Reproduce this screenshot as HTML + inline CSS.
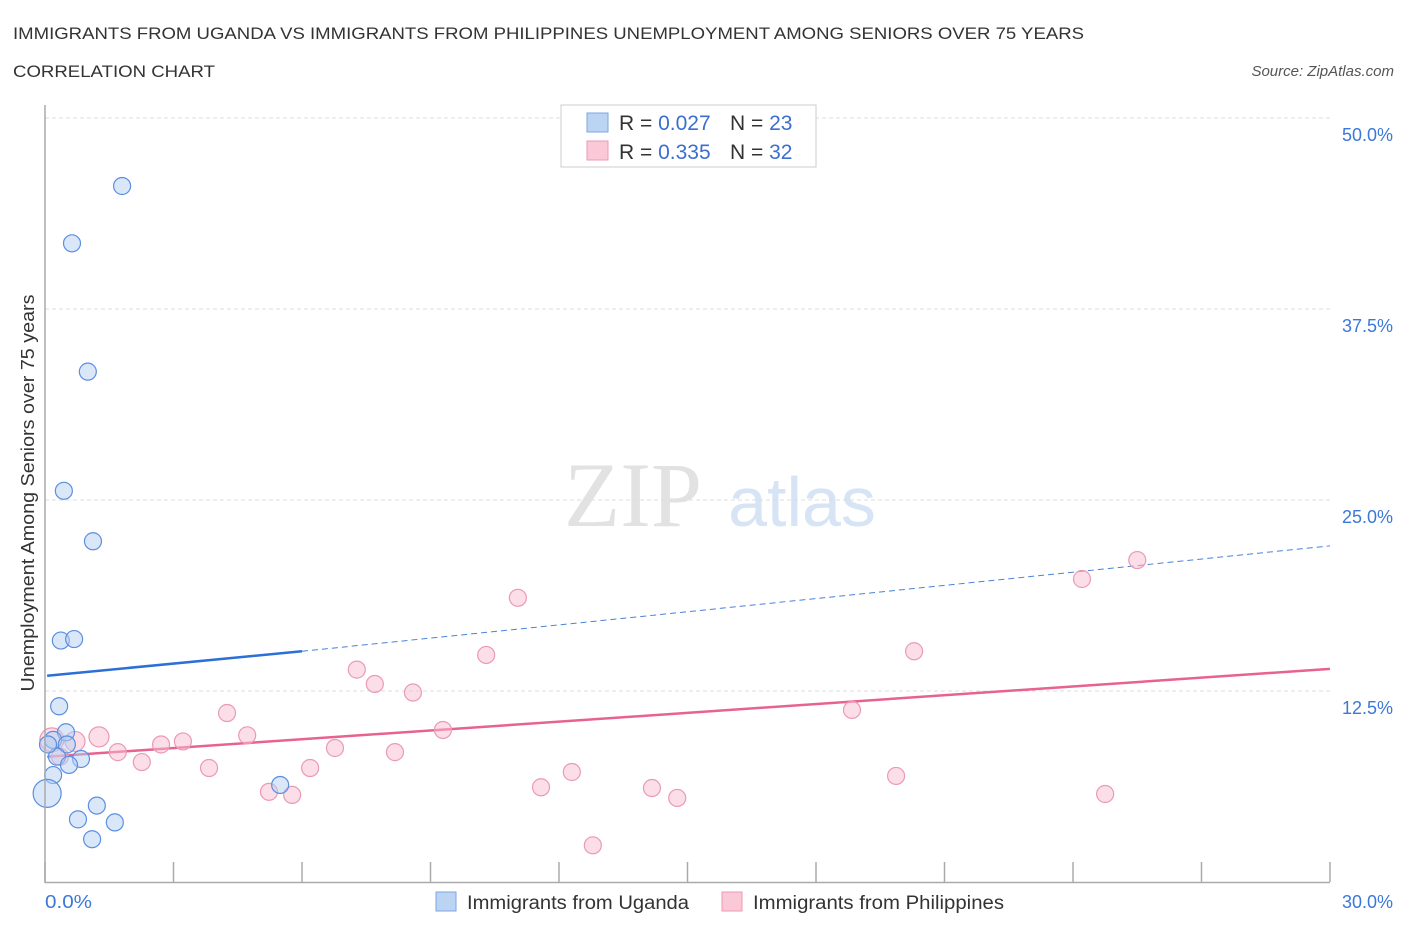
<!DOCTYPE html>
<html><head><meta charset="utf-8"><style>
body{margin:0;background:#fff;font-family:"Liberation Sans",sans-serif;}
</style></head><body>
<svg id="chart" width="1406" height="930" xmlns="http://www.w3.org/2000/svg" font-family="Liberation Sans, sans-serif">
<text x="13" y="39" font-size="17" fill="#333" textLength="1071" lengthAdjust="spacingAndGlyphs">IMMIGRANTS FROM UGANDA VS IMMIGRANTS FROM PHILIPPINES UNEMPLOYMENT AMONG SENIORS OVER 75 YEARS</text>
<text x="13" y="77" font-size="17" fill="#333" textLength="202" lengthAdjust="spacingAndGlyphs">CORRELATION CHART</text>
<text x="1394" y="76" font-size="15" fill="#555" text-anchor="end" font-style="italic">Source: ZipAtlas.com</text>
<text x="633" y="526" font-size="92" fill="#e2e2e2" text-anchor="middle" font-family="Liberation Serif, serif">ZIP</text>
<text x="802" y="526" font-size="70" fill="#d6e4f5" text-anchor="middle">atlas</text>
<text transform="translate(34,493) rotate(-90)" font-size="18" fill="#333" text-anchor="middle" textLength="397" lengthAdjust="spacingAndGlyphs">Unemployment Among Seniors over 75 years</text>
<g id="grid"></g><g id="ticks"></g><g id="lines"></g><g id="pts"></g>
<line x1="45" y1="105" x2="45" y2="883" stroke="#aaa" stroke-width="1.5"/>
<line x1="45" y1="882.5" x2="1330" y2="882.5" stroke="#aaa" stroke-width="1.5"/>
<text x="45" y="908" font-size="18" fill="#3b78d8" textLength="47" lengthAdjust="spacingAndGlyphs">0.0%</text>
<text x="1393" y="908" font-size="18" fill="#3b78d8" text-anchor="end">30.0%</text>
<g>
<rect x="561" y="105" width="255" height="62" fill="#fff" stroke="#ccc"/>
<rect x="587" y="113" width="21" height="19" fill="#bcd4f4" stroke="#7ea6e0"/>
<rect x="587" y="141" width="21" height="19" fill="#fbc8d8" stroke="#ee9ab5"/>
<text x="619" y="130" font-size="21" fill="#333">R = <tspan fill="#3b6fcf">0.027</tspan></text>
<text x="730" y="130" font-size="21" fill="#333">N = <tspan fill="#3b6fcf">23</tspan></text>
<text x="619" y="159" font-size="21" fill="#333">R = <tspan fill="#3b6fcf">0.335</tspan></text>
<text x="730" y="159" font-size="21" fill="#333">N = <tspan fill="#3b6fcf">32</tspan></text>
</g>
<g><rect x="436" y="892" width="20" height="19" fill="#bcd4f4" stroke="#7ea6e0"/><text x="467" y="909" font-size="19" fill="#333" textLength="222" lengthAdjust="spacingAndGlyphs">Immigrants from Uganda</text></g>
<g><rect x="722" y="892" width="20" height="19" fill="#fbc8d8" stroke="#ee9ab5"/><text x="753" y="909" font-size="19" fill="#333" textLength="251" lengthAdjust="spacingAndGlyphs">Immigrants from Philippines</text></g>
</svg>
<script>
const yTicks=[12.5,25,37.5,50];
const yTickLabels=["12.5%","25.0%","37.5%","50.0%"];
const xTicks=[0,3,6,9,12,15,18,21,24,27,30];
const ugandaX=[1.80,0.63,1.00,0.44,1.12,0.37,0.68,0.33,0.49,0.19,0.51,0.28,0.84,0.56,0.19,0.05,1.21,0.77,1.63,1.10,5.49,0.07];
const ugandaY=[45.55,41.8,33.4,25.6,22.3,15.8,15.9,11.5,9.8,9.3,9.0,8.2,8.05,7.66,7.0,5.8,5.0,4.1,3.9,2.8,6.35,9.0];
const ugandaR=[8.5,8.5,8.5,8.5,8.5,8.5,8.5,8.5,8.5,8.5,8.5,8.5,8.5,8.5,8.5,14,8.5,8.5,8.5,8.5,8.5,8.5];
const philX=[0.16,0.7,1.26,1.70,2.26,2.71,3.22,3.83,4.25,4.72,5.23,5.77,6.19,6.77,7.28,7.70,8.17,8.59,9.29,10.30,11.04,11.58,12.30,12.79,14.17,14.76,18.84,19.87,20.29,24.21,24.75,25.5,0.35];
const philY=[9.3,9.2,9.5,8.5,7.85,9.0,9.2,7.46,11.06,9.6,5.9,5.7,7.46,8.77,13.9,12.96,8.5,12.4,9.95,14.86,18.6,6.2,7.2,2.4,6.15,5.5,11.26,6.94,15.1,19.83,5.76,21.07,8.2];
const philR=[12,10,10,8.5,8.5,8.5,8.5,8.5,8.5,8.5,8.5,8.5,8.5,8.5,8.5,8.5,8.5,8.5,8.5,8.5,8.5,8.5,8.5,8.5,8.5,8.5,8.5,8.5,8.5,8.5,8.5,8.5,8.5];
const ugandaTrend=[[0.05,13.5],[6.0,15.1],[30,22.0]];
const philTrend=[[0.05,8.2],[30,13.95]];
const X=v=>45+v*(1285/30), Y=v=>882-v*15.28;
const NS="http://www.w3.org/2000/svg";
function mk(p,t,a){const e=document.createElementNS(NS,t);for(const k in a)e.setAttribute(k,a[k]);document.getElementById(p).appendChild(e);return e;}
yTicks.forEach((v,i)=>{
 const l=mk('grid','line',{x1:45,x2:1330,y1:Y(v),y2:Y(v),stroke:'#ddd','stroke-dasharray':'4,3'});
 
 
 const t=mk('grid','text',{x:1393,y:Y(v)+23,'font-size':18,fill:'#3b78d8','text-anchor':'end'});
 t.textContent=yTickLabels[i];
 
 
});
xTicks.forEach(v=>{
 const l=mk('ticks','line',{x1:X(v),x2:X(v),y1:862,y2:882,stroke:'#aaa','stroke-width':1.5});
 
 
});
const p=philTrend;
const pl=mk('lines','line',{x1:X(p[0][0]),y1:Y(p[0][1]),x2:X(p[1][0]),y2:Y(p[1][1]),stroke:'#e8628f','stroke-width':2.5});


const u=ugandaTrend;
const us=mk('lines','line',{x1:X(u[0][0]),y1:Y(u[0][1]),x2:X(u[1][0]),y2:Y(u[1][1]),stroke:'#2c6fd6','stroke-width':2.5});


const ud=mk('lines','line',{x1:X(u[1][0]),y1:Y(u[1][1]),x2:X(u[2][0]),y2:Y(u[2][1]),stroke:'#4a82d8','stroke-width':1,'stroke-dasharray':'6,4'});


philX.forEach((x,i)=>{
 const c=mk('pts','circle',{cx:X(x),cy:Y(philY[i]),r:philR[i],fill:'rgba(248,190,208,0.5)',stroke:'#eb9ab4','stroke-width':1.2});
 
 
});
ugandaX.forEach((x,i)=>{
 const c=mk('pts','circle',{cx:X(x),cy:Y(ugandaY[i]),r:ugandaR[i],fill:'rgba(180,208,244,0.5)',stroke:'#5b8fe0','stroke-width':1.2});
 
 
});
</script>
</body></html>
